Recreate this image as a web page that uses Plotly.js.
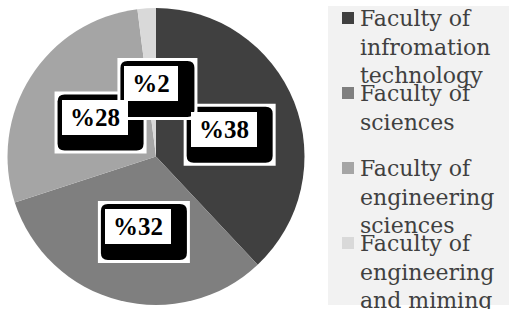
<!DOCTYPE html>
<html>
<head>
<meta charset="utf-8">
<script src="https://cdn.plot.ly/plotly-3.0.1.min.js"></script>
<style>html,body{margin:0;padding:0;background:#fff;}#chart{width:509px;height:309px;}</style>
</head>
<body>
<div id="chart"></div>
<script>
const categories = ["Faculty of infromation technology", "Faculty of sciences", "Faculty of engineering sciences", "Faculty of engineering and miming"];
const legendText = ["Faculty of<br>infromation<br>technology", "Faculty of<br>sciences", "Faculty of<br>engineering<br>sciences", "Faculty of<br>engineering<br>and miming"];
const values = [38, 32, 28, 2];
const valueLabels = ["%38", "%32", "%28", "%2"];
const colors = ["#404040", "#7f7f7f", "#a5a5a5", "#d9d9d9"];

const W = 509, H = 309;
const cx = 156, cy = 156.5, R = 148.5;

const trace = {
  type: 'pie',
  labels: categories,
  values: values,
  sort: false,
  direction: 'clockwise',
  rotation: 0,
  textinfo: 'none',
  hoverinfo: 'label+value',
  marker: {colors: colors, line: {width: 0}},
  domain: {x: [(cx - R) / W, (cx + R) / W], y: [(H - cy - R) / H, (H - cy + R) / H]}
};

function roundRect(x0, y0, x1, y1, r) {
  return `M${x0 + r},${y0} L${x1 - r},${y0} Q${x1},${y0} ${x1},${y0 + r} L${x1},${y1 - r} Q${x1},${y1} ${x1 - r},${y1} L${x0 + r},${y1} Q${x0},${y1} ${x0},${y1 - r} L${x0},${y0 + r} Q${x0},${y0} ${x0 + r},${y0} Z`;
}

const shapes = [];
const annotations = [];

// legend background
shapes.push({type: 'rect', xref: 'paper', yref: 'paper', x0: 328 / W, x1: 1, y0: 1 - 305 / H, y1: 1 - 6 / H,
  fillcolor: '#f2f2f2', line: {width: 0}, layer: 'below'});

// value labels at slice mid-angles
const total = values.reduce((a, b) => a + b, 0);
let cum = 0;
values.forEach((v, i) => {
  const mid = (cum + v / 2) / total * 2 * Math.PI;
  cum += v;
  const r = 0.49 * R;
  const px = cx + r * Math.sin(mid);
  const py = cy - r * Math.cos(mid);
  const ax = px / W, ay = 1 - py / H;
  const iw = 18 + 12 * (valueLabels[i].length - 1) + 24;
  const bw = iw + 20, bh = 56;
  const ox = 6, oy = -5;
  shapes.push({type: 'rect', xref: 'paper', yref: 'paper', xsizemode: 'pixel', ysizemode: 'pixel',
    xanchor: ax, yanchor: ay, x0: ox - bw / 2 - 3, x1: ox + bw / 2 + 3, y0: oy - bh / 2 - 3, y1: oy + bh / 2 + 3,
    fillcolor: '#ffffff', line: {width: 0}, layer: 'above'});
  shapes.push({type: 'path', xref: 'paper', yref: 'paper', xsizemode: 'pixel', ysizemode: 'pixel',
    xanchor: ax, yanchor: ay, path: roundRect(ox - bw / 2, oy - bh / 2, ox + bw / 2, oy + bh / 2, 7),
    fillcolor: '#000000', line: {width: 0}, layer: 'above'});
  annotations.push({xref: 'paper', yref: 'paper', x: ax, y: ay, xanchor: 'center', yanchor: 'middle',
    text: valueLabels[i], showarrow: false, width: iw, height: 35, bgcolor: '#ffffff', borderpad: 0, borderwidth: 0,
    font: {family: 'Liberation Serif', size: 25, weight: 'bold', color: '#000000'}});
});

// legend entries
categories.forEach((c, i) => {
  const top = 12 + 75 * i;
  shapes.push({type: 'rect', xref: 'paper', yref: 'paper', x0: 342 / W, x1: 354 / W, y0: 1 - (top + 12) / H, y1: 1 - top / H,
    fillcolor: colors[i], line: {width: 0}});
  annotations.push({xref: 'paper', yref: 'paper', x: 359 / W, y: 1 - (top - 7) / H, xanchor: 'left', yanchor: 'top',
    align: 'left', text: legendText[i], showarrow: false, borderpad: 0,
    font: {family: 'DejaVu Serif', size: 22, color: '#404040'}});
});

const layout = {
  width: W, height: H,
  margin: {l: 0, r: 0, t: 0, b: 0},
  paper_bgcolor: '#ffffff',
  showlegend: false,
  shapes: shapes,
  annotations: annotations
};

Plotly.newPlot('chart', [trace], layout, {displayModeBar: false, staticPlot: true});
</script>
</body>
</html>
